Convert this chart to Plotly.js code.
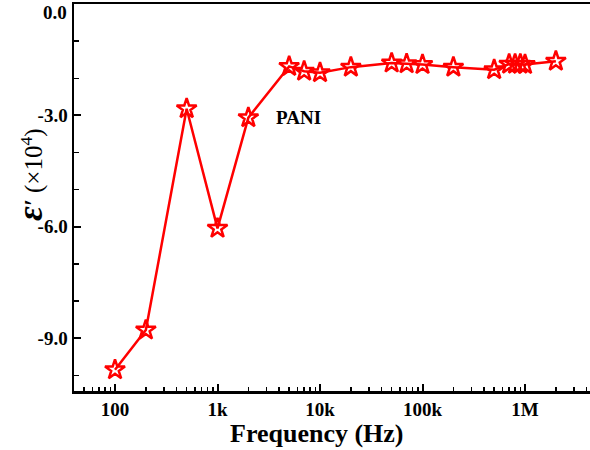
<!DOCTYPE html>
<html>
<head>
<meta charset="utf-8">
<script src="https://cdn.plot.ly/plotly-3.0.1.min.js"></script>
<style>html,body{margin:0;padding:0;background:#fff;}#chart{width:590px;height:450px;}</style>
</head>
<body>
<div id="chart"></div>
<script>
const frequency = [100, 200, 500, 1000, 2000, 5000, 7000, 10000, 20000, 50000, 70000, 100000, 200000, 500000, 700000, 800000, 900000, 1000000, 2000000];
const epsilonReal = [-9.85, -8.78, -2.82, -6.04, -3.06, -1.68, -1.81, -1.85, -1.70, -1.59, -1.61, -1.63, -1.70, -1.77, -1.62, -1.62, -1.62, -1.63, -1.54];
const xTickVals = [100, 1000, 10000, 100000, 1000000];
const xTickText = ['100', '1k', '10k', '100k', '1M'];
const yTickVals = [-9, -6, -3];
const yTickText = ['-9.0', '-6.0', '-3.0'];
const yTopLabel = '0.0';
const seriesName = 'PANI';
const xTitle = 'Frequency (Hz)';

const font = 'Liberation Serif, Times New Roman, serif';
const trace = {
  x: frequency, y: epsilonReal, type: 'scatter', mode: 'lines+markers', name: seriesName,
  line: {color: '#ff0000', width: 2.5},
  marker: {symbol: 'star-open', size: 15, color: '#ff0000', line: {color: '#ff0000', width: 2.5}}
};
const layout = {
  width: 590, height: 450,
  margin: {l: 74, r: 0, t: 4, b: 59},
  paper_bgcolor: '#fff', plot_bgcolor: '#fff',
  showlegend: false,
  font: {family: font, color: '#000'},
  xaxis: {
    type: 'log', range: [1.6, 6.634],
    tickvals: xTickVals, ticktext: xTickText.map(t => '<b>' + t + '</b>'),
    ticks: 'inside', ticklen: 7, tickwidth: 2, tickcolor: '#000',
    minor: {ticks: 'inside', ticklen: 4, tickwidth: 1.5, tickcolor: '#000', dtick: 'D1', showgrid: false},
    showline: true, linewidth: 2.5, linecolor: '#000', mirror: true,
    showgrid: false, zeroline: false,
    tickfont: {family: font, size: 19, color: '#000'}
  },
  yaxis: {
    range: [-10.42, 0],
    tickvals: yTickVals, ticktext: yTickText.map(t => '<b>' + t + '</b>'),
    ticks: 'inside', ticklen: 7, tickwidth: 2, tickcolor: '#000',
    minor: {ticks: 'inside', ticklen: 5, tickwidth: 1.5, tickcolor: '#000', dtick: 1, showgrid: false},
    showline: true, linewidth: 2.5, linecolor: '#000', mirror: false,
    showgrid: false, zeroline: false,
    tickfont: {family: font, size: 19, color: '#000'}
  },
  annotations: [
    {x: Math.log10(6200), y: -3.05, xref: 'x', yref: 'y', text: '<b>' + seriesName + '</b>',
     showarrow: false, font: {family: font, size: 19, color: '#000'}, xanchor: 'center', yanchor: 'middle'},
    {x: 0, y: 1, xref: 'paper', yref: 'paper', text: '<b>' + yTopLabel + '</b>', showarrow: false,
     font: {family: font, size: 19, color: '#000'}, xanchor: 'right', yanchor: 'top', xshift: -5, yshift: 4},
    {x: (317 - 74) / 516, y: 0, xref: 'paper', yref: 'paper', text: '<b>' + xTitle + '</b>', showarrow: false,
     font: {family: font, size: 26, color: '#000'}, xanchor: 'center', yanchor: 'middle', yshift: -42},
    {x: 0, y: (391 - 175) / 387, xref: 'paper', yref: 'paper', textangle: -90,
     text: '<b><i><span style="font-size:36px">ε</span>′</i></b> (×10<sup>4</sup>)', showarrow: false,
     font: {family: font, size: 25, color: '#000'}, xanchor: 'center', yanchor: 'middle', xshift: -44}
  ]
};
Plotly.newPlot('chart', [trace], layout, {displayModeBar: false, staticPlot: true});
</script>
</body>
</html>
